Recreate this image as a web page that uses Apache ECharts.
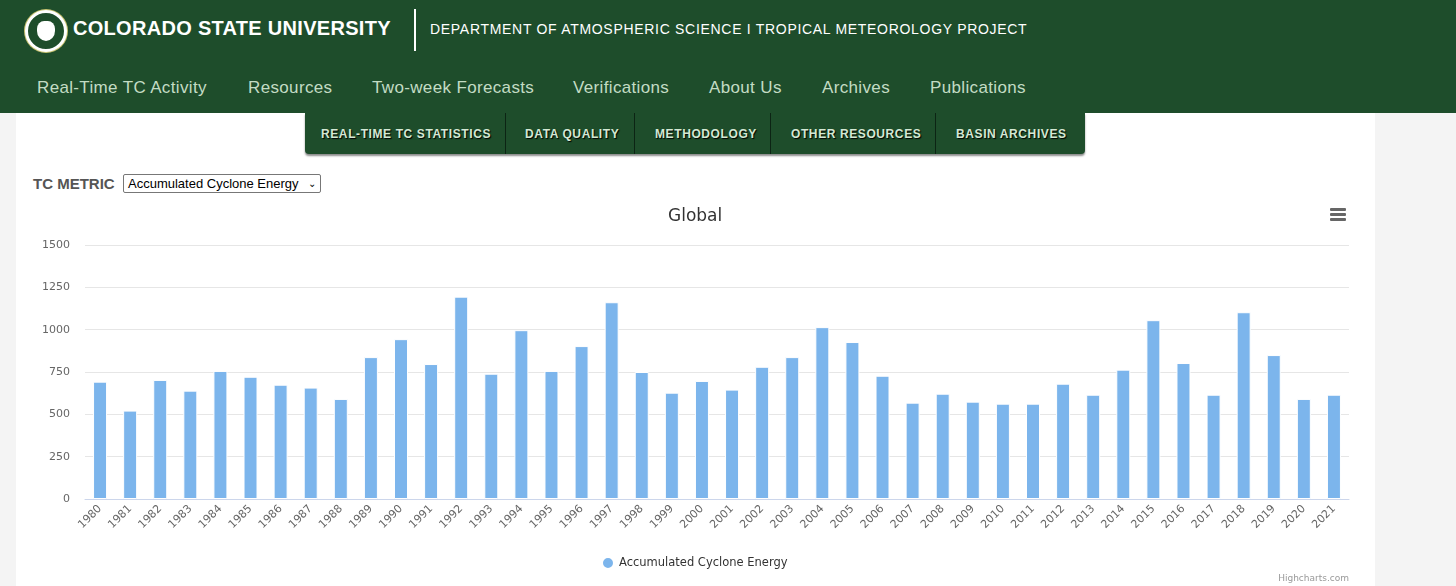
<!DOCTYPE html>
<html>
<head>
<meta charset="utf-8">
<title>Global ACE</title>
<script src="https://cdn.jsdelivr.net/npm/echarts@6/dist/echarts.min.js"></script>
<style>
  html, body { margin: 0; padding: 0; }
  body { width: 1456px; height: 586px; overflow: hidden; background: #f4f4f4; position: relative;
         font-family: "Liberation Sans", Arial, sans-serif; }
  .header { position: absolute; left: 0; top: 0; width: 1456px; height: 113px; background: #1e4d2b; }
  .logo { position: absolute; left: 25px; top: 10px; width: 36px; height: 36px; border-radius: 50%;
          background: #1e4d2b; border: 3px solid #fff; box-shadow: 0 0 0 1px #c8c372; }
  .logo::after { content: ""; position: absolute; left: 9px; top: 8px; width: 18px; height: 20px;
          border-radius: 40% 40% 50% 50%; background: #fff; }
  .csu { position: absolute; left: 73px; top: 17px; color: #fff; font-family: "Liberation Sans", sans-serif;
         font-weight: bold; font-size: 20px; letter-spacing: 0.3px; }
  .sep { position: absolute; left: 414px; top: 9px; width: 2px; height: 42px; background: #fff; }
  .dept { position: absolute; left: 430px; top: 21px; color: #fff; font-size: 14px; letter-spacing: 0.7px; }
  .nav { position: absolute; top: 78px; color: #c3dcc4; font-size: 17px; letter-spacing: 0.35px; }
  .panel { position: absolute; left: 16px; top: 113px; width: 1359px; height: 473px; background: #fff; }
  .sub { position: absolute; left: 305px; top: 113px; width: 780px; height: 41px; background: #1e4d2b;
         border-radius: 0 0 4px 4px; box-shadow: 0 2px 2px rgba(0,0,0,0.45); }
  .sub span { position: absolute; top: 14px; color: #d4e8d4; font-size: 12px; font-weight: bold;
         letter-spacing: 0.6px; text-shadow: 1px 1px 1px #000; }
  .sub i { position: absolute; top: 0; width: 1px; height: 41px; background: #0c2414; }
  .metric { position: absolute; left: 33px; top: 175px; color: #555; font-size: 15px; font-weight: bold; }
  .select { position: absolute; left: 123px; top: 174px; width: 192px; height: 17px; border: 1px solid #777;
         border-radius: 2px; background: #fff; font-size: 13px; color: #000; line-height: 17px; padding-left: 4px;
         box-sizing: content-box; }
  .select b { position: absolute; right: 4px; top: 0; font-weight: normal; font-size: 10px; }
  #chart { position: absolute; left: 0; top: 195px; width: 1456px; height: 391px; }
  .menu { position: absolute; left: 1330px; top: 208px; width: 16px; }
  .menu div { height: 2.5px; background: #666; margin-bottom: 2.5px; border-radius: 1px; }
</style>
</head>
<body>
<div class="header">
  <div class="logo"></div>
  <div class="csu">COLORADO STATE UNIVERSITY</div>
  <div class="sep"></div>
  <div class="dept">DEPARTMENT OF ATMOSPHERIC SCIENCE I TROPICAL METEOROLOGY PROJECT</div>
  <div class="nav" style="left:37px">Real-Time TC Activity</div>
  <div class="nav" style="left:248px">Resources</div>
  <div class="nav" style="left:372px">Two-week Forecasts</div>
  <div class="nav" style="left:573px">Verifications</div>
  <div class="nav" style="left:709px">About Us</div>
  <div class="nav" style="left:822px">Archives</div>
  <div class="nav" style="left:930px">Publications</div>
</div>
<div class="panel"></div>
<div class="sub">
  <span style="left:16px">REAL-TIME TC STATISTICS</span>
  <i style="left:200px"></i>
  <span style="left:220px">DATA QUALITY</span>
  <i style="left:329px"></i>
  <span style="left:350px">METHODOLOGY</span>
  <i style="left:465px"></i>
  <span style="left:486px">OTHER RESOURCES</span>
  <i style="left:630px"></i>
  <span style="left:651px">BASIN ARCHIVES</span>
</div>
<div class="metric">TC METRIC</div>
<div class="select">Accumulated Cyclone Energy<b>&#8964;</b></div>
<div id="chart"></div>
<div class="menu"><div></div><div></div><div></div></div>
<script>
// 年份与全球 ACE 数值
const years = [
  '1980', '1981', '1982', '1983', '1984', '1985', '1986', '1987', '1988', '1989',
  '1990', '1991', '1992', '1993', '1994', '1995', '1996', '1997', '1998', '1999',
  '2000', '2001', '2002', '2003', '2004', '2005', '2006', '2007', '2008', '2009',
  '2010', '2011', '2012', '2013', '2014', '2015', '2016', '2017', '2018', '2019',
  '2020', '2021'
];
const aceValues = [
  693, 522, 703, 640, 756, 722, 675, 658, 591, 838,
  944, 797, 1195, 740, 997, 756, 903, 1162, 750, 628,
  697, 646, 781, 838, 1015, 927, 728, 569, 622, 575,
  563, 563, 681, 616, 764, 1056, 803, 616, 1103, 850,
  591, 616
];
const yTicks = [0, 250, 500, 750, 1000, 1250, 1500];
const seriesName = 'Accumulated Cyclone Energy';

const font = '"DejaVu Sans", "Lucida Grande", sans-serif';
const chart = echarts.init(document.getElementById('chart'));

chart.setOption({
    backgroundColor: 'transparent',
    animation: false,
    title: {
        text: 'Global',
        left: 663,
        top: 8,
        textStyle: { fontFamily: font, fontSize: 17, fontWeight: 'normal', color: '#333' }
    },
    legend: {
        data: [seriesName],
        left: 596,
        top: 356,
        icon: 'circle',
        itemWidth: 12,
        itemHeight: 12,
        itemGap: 6,
        textStyle: { fontFamily: font, fontSize: 11.5, fontWeight: 'normal', color: '#333' }
    },
    grid: { left: 85, right: 107, top: 50, bottom: 87, containLabel: false },
    xAxis: {
        type: 'category',
        data: years,
        axisLine: { lineStyle: { color: '#ccd6eb' } },
        axisTick: { show: false },
        axisLabel: { rotate: 45, margin: 8, fontFamily: font, fontSize: 11, color: '#666', interval: 0 }
    },
    yAxis: {
        type: 'value',
        min: yTicks[0],
        max: yTicks[yTicks.length - 1],
        interval: 250,
        axisLine: { show: false },
        axisTick: { show: false },
        splitLine: { lineStyle: { color: '#e6e6e6' } },
        axisLabel: { margin: 15, fontFamily: font, fontSize: 11, color: '#666', formatter: v => String(v) }
    },
    series: [{
        name: seriesName,
        type: 'bar',
        data: aceValues,
        barWidth: 14,
        itemStyle: { color: '#7cb5ec', borderColor: '#fff', borderWidth: 1 }
    }],
    graphic: [{
        type: 'text',
        right: 107,
        top: 379,
        style: { text: 'Highcharts.com', fontFamily: font, fontSize: 9, fill: '#999' }
    }]
});
</script>
</body>
</html>
